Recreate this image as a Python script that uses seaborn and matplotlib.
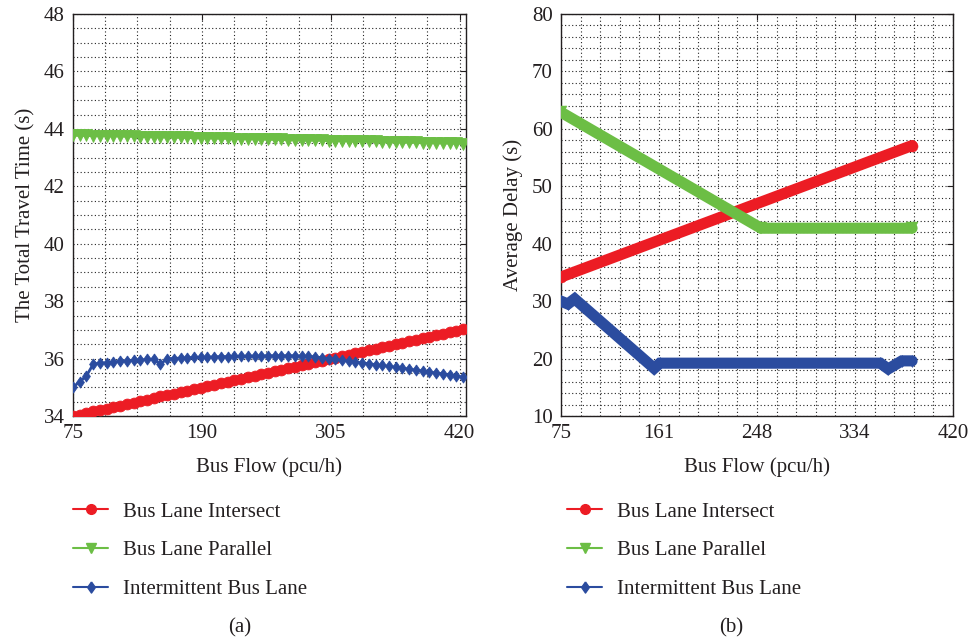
import numpy as np
import matplotlib
matplotlib.use("Agg")
import matplotlib.pyplot as plt
from matplotlib.lines import Line2D
from matplotlib.ticker import MultipleLocator, FixedLocator
import seaborn as sns

# ---------------- data ----------------
series_names = ["Bus Lane Intersect", "Bus Lane Parallel", "Intermittent Bus Lane"]

# panel (a): total travel time
flow_a = [75, 81, 87, 93, 99, 105, 111, 117, 123, 129,
          135, 141, 147, 153, 159, 165, 171, 177, 183, 189,
          195, 201, 207, 213, 219, 225, 231, 237, 243, 249,
          255, 261, 267, 273, 279, 285, 291, 297, 303, 309,
          315, 321, 327, 333, 339, 345, 351, 357, 363, 369,
          375, 381, 387, 393, 399, 405, 411, 417, 423]
intersect_a = [34.00, 34.05, 34.10, 34.16, 34.21, 34.26, 34.31, 34.36, 34.42, 34.47,
               34.52, 34.57, 34.62, 34.68, 34.73, 34.78, 34.83, 34.88, 34.94, 34.99,
               35.04, 35.09, 35.14, 35.20, 35.25, 35.30, 35.35, 35.40, 35.46, 35.51,
               35.56, 35.61, 35.66, 35.72, 35.77, 35.82, 35.87, 35.92, 35.98, 36.03,
               36.08, 36.13, 36.18, 36.24, 36.29, 36.34, 36.39, 36.44, 36.50, 36.55,
               36.60, 36.65, 36.70, 36.76, 36.81, 36.86, 36.91, 36.96, 37.02]
parallel_a = [43.78, 43.77, 43.77, 43.76, 43.76, 43.76, 43.75, 43.75, 43.74, 43.74,
              43.73, 43.73, 43.72, 43.72, 43.71, 43.71, 43.70, 43.70, 43.69, 43.69,
              43.68, 43.68, 43.67, 43.67, 43.66, 43.66, 43.65, 43.65, 43.64, 43.64,
              43.63, 43.63, 43.62, 43.62, 43.61, 43.61, 43.60, 43.60, 43.59, 43.59,
              43.58, 43.58, 43.57, 43.57, 43.56, 43.56, 43.55, 43.55, 43.54, 43.54,
              43.53, 43.53, 43.52, 43.52, 43.51, 43.51, 43.50, 43.50, 43.49]
intermittent_a = [35.00, 35.20, 35.40, 35.80, 35.85, 35.85, 35.88, 35.90, 35.92, 35.94,
                  35.95, 35.97, 35.98, 35.80, 36.00, 36.00, 36.02, 36.03, 36.04, 36.05,
                  36.05, 36.06, 36.07, 36.07, 36.08, 36.08, 36.09, 36.09, 36.09, 36.10,
                  36.10, 36.10, 36.10, 36.10, 36.09, 36.08, 36.06, 36.03, 36.00, 35.97,
                  35.94, 35.91, 35.88, 35.85, 35.82, 35.79, 35.76, 35.73, 35.70, 35.67,
                  35.63, 35.60, 35.57, 35.53, 35.50, 35.47, 35.43, 35.40, 35.35]

# panel (b): average delay (breakpoints of the dense series)
flow_b_intersect = [75, 384]
intersect_b = [34.2, 57.1]
flow_b_parallel = [75, 251, 384]
parallel_b = [62.9, 42.7, 42.7]
flow_b_intermittent = [75, 81, 87, 157, 162, 356, 363, 375, 384]
intermittent_b = [30.0, 29.5, 30.4, 18.3, 19.2, 19.2, 18.2, 19.6, 19.6]

xticks_a = [75, 190, 305, 420]
xticklabels_a = ["75", "190", "305", "420"]
yticks_a = [34, 36, 38, 40, 42, 44, 46, 48]
xticks_b = [75, 161.25, 247.5, 333.75, 420]
xticklabels_b = ["75", "161", "248", "334", "420"]
yticks_b = [10, 20, 30, 40, 50, 60, 70, 80]

# ---------------- style ----------------
colors = ["#EC1C24", "#6CBE45", "#2B4C9F"]
diamond = [(0, 1), (0.7, 0), (0, -1), (-0.7, 0), (0, 1)]
markers = ["o", "v", diamond]
text_color = "#231F20"

sns.set_theme(style="white")
plt.rcParams["font.family"] = ["Liberation Serif", "DejaVu Serif"]
plt.rcParams["text.color"] = text_color
plt.rcParams["axes.labelcolor"] = text_color
plt.rcParams["xtick.color"] = text_color
plt.rcParams["ytick.color"] = text_color

W, H = 969, 644
fig = plt.figure(figsize=(W / 100, H / 100), dpi=100)
fig.patch.set_facecolor("white")
ax_a = fig.add_axes([73 / W, 1 - 416 / H, 393 / W, 402 / H])
ax_b = fig.add_axes([561 / W, 1 - 416 / H, 392 / W, 402 / H])

# panel (a)
ms_a = [7.8, 8.8, 8.0]
for y, c, m, ms in zip([intersect_a, parallel_a, intermittent_a], colors, markers, ms_a):
    sns.lineplot(x=flow_a, y=y, ax=ax_a, color=c, marker=m, markersize=ms,
                 markeredgecolor=c, markeredgewidth=0.6, linewidth=2.0,
                 legend=False, zorder=3)

# panel (b)
ms_b = [8.0, 8.0, 8.6]
for xx, y, c, m, ms in zip([flow_b_intersect, flow_b_parallel, flow_b_intermittent],
                           [intersect_b, parallel_b, intermittent_b], colors, markers, ms_b):
    sns.lineplot(x=xx, y=y, ax=ax_b, color=c, marker=m, markersize=ms,
                 markeredgecolor=c, markeredgewidth=0.3, linewidth=8,
                 solid_joinstyle="miter", legend=False, zorder=3)


def style_axes(ax, xlim, ylim, xticks, xticklabels, yticks, xminor, yminor, ylabel):
    ax.set_facecolor("white")
    ax.set_xlim(*xlim)
    ax.set_ylim(*ylim)
    ax.xaxis.set_major_locator(FixedLocator(xticks))
    ax.set_xticklabels(xticklabels)
    ax.yaxis.set_major_locator(FixedLocator(yticks))
    ax.xaxis.set_minor_locator(FixedLocator(xminor))
    ax.yaxis.set_minor_locator(MultipleLocator(yminor))
    ax.set_axisbelow(True)
    ax.grid(True, which="both", linestyle=(0, (1, 2.2)), color="#222222", linewidth=0.8)
    ax.tick_params(which="major", direction="in", length=4, width=0.8,
                   top=True, right=True, labelsize=15, pad=6, colors=text_color)
    ax.tick_params(which="minor", length=0)
    for s in ax.spines.values():
        s.set_color("#231F20")
        s.set_linewidth(1.0)
    ax.set_xlabel("Bus Flow (pcu/h)", fontsize=15, labelpad=10)
    ax.set_ylabel(ylabel, fontsize=15, labelpad=6)


style_axes(ax_a, (75, 425.7), (34, 48), xticks_a, xticklabels_a, yticks_a,
           np.arange(75, 426, 28.75), 0.5, "The Total Travel Time (s)")
style_axes(ax_b, (75, 420), (10, 80), xticks_b, xticklabels_b, yticks_b,
           np.arange(75, 421, 17.25), 2, "Average Delay (s)")

# legends
for ax, left in [(ax_a, 73), (ax_b, 567)]:
    handles = [Line2D([], [], color=c, marker=m, markersize=ms, linewidth=1.5,
                      markeredgecolor=c)
               for c, m, ms in zip(colors, markers, [7, 7, 8])]
    ax.legend(handles, series_names, loc="upper left",
              bbox_to_anchor=(left / W, 1 - 502 / H), bbox_transform=fig.transFigure,
              frameon=False, fontsize=15, handlelength=1.7, handletextpad=0.72,
              labelspacing=0.92, borderpad=0, borderaxespad=0)

fig.text(240 / W, 1 - 628 / H, "(a)", ha="center", va="center", fontsize=15)
fig.text(731 / W, 1 - 628 / H, "(b)", ha="center", va="center", fontsize=15)

fig.savefig("out.png", dpi=100, facecolor="white")
